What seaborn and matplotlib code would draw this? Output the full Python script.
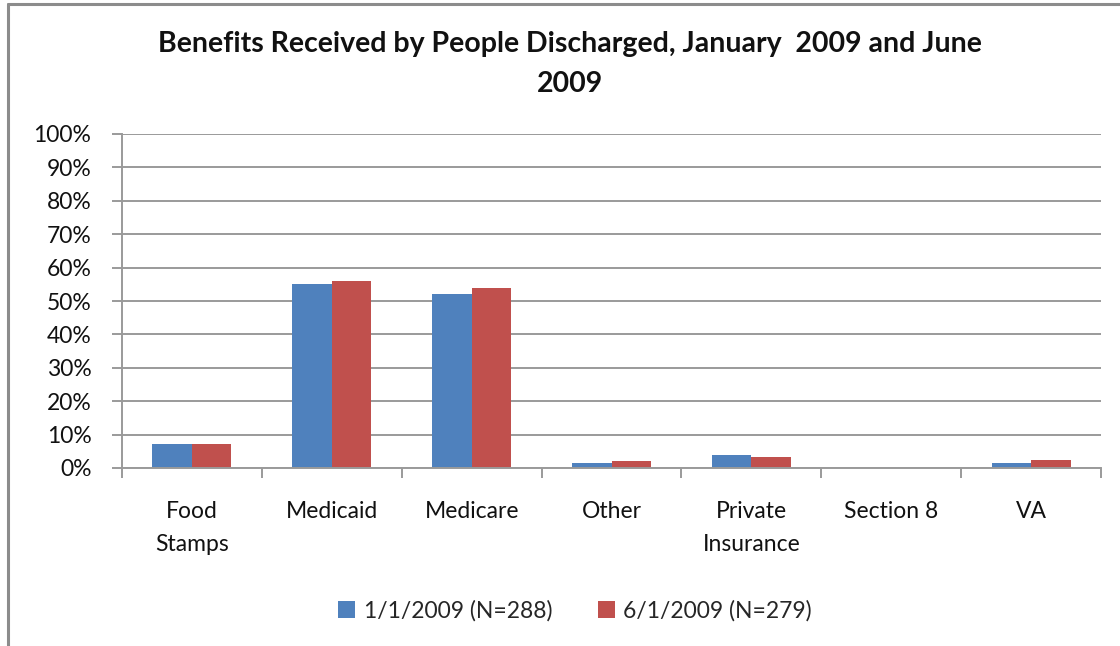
import matplotlib
matplotlib.use("Agg")
import matplotlib.pyplot as plt
from matplotlib.patches import Patch
from matplotlib.lines import Line2D
from matplotlib.ticker import FuncFormatter, MultipleLocator
import seaborn as sns
import pandas as pd

categories = ["Food\nStamps", "Medicaid", "Medicare", "Other",
              "Private\nInsurance", "Section 8", "VA"]
series_names = ["1/1/2009 (N=288)", "6/1/2009 (N=279)"]
jan_2009 = [7.1, 55.1, 52.1, 1.6, 4.0, 0.0, 1.6]
jun_2009 = [7.1, 55.9, 54.0, 2.1, 3.2, 0.0, 2.5]
colors = ["#4F81BD", "#C0504D"]
title = "Benefits Received by People Discharged, January  2009 and June\n2009"

df = pd.DataFrame({
    "category": categories * 2,
    "series": [series_names[0]] * len(categories) + [series_names[1]] * len(categories),
    "value": jan_2009 + jun_2009,
})

sns.set_theme(style="white")
plt.rcParams["font.family"] = ["Lato", "DejaVu Sans"]

W, H = 1120, 646
fig = plt.figure(figsize=(W / 100, H / 100), dpi=100)
ax = fig.add_axes([122 / W, 1 - 468 / H, (1101 - 122) / W, (468 - 134) / H])

sns.barplot(data=df, x="category", y="value", hue="series", order=categories,
            hue_order=series_names, palette=colors, width=0.565, gap=0,
            saturation=1, edgecolor="none", ax=ax, legend=False)

grid_col = "#9a9a9a"
ax.set_ylim(0, 100)
ax.set_xlim(-0.5, len(categories) - 0.5)
ax.yaxis.set_major_locator(MultipleLocator(10))
ax.yaxis.set_major_formatter(FuncFormatter(lambda v, p: f"{v:.0f}%"))
ax.grid(axis="y", color=grid_col, linewidth=1.4)
ax.set_axisbelow(True)
for s in ["top", "right"]:
    ax.spines[s].set_visible(False)
for s in ["left", "bottom"]:
    ax.spines[s].set_color(grid_col)
    ax.spines[s].set_linewidth(1.4)
ax.set_xlabel("")
ax.set_ylabel("")

# y ticks outward, x ticks at category boundaries
ax.tick_params(axis="y", which="major", direction="out", length=7, width=1.4,
               color=grid_col, left=True, labelsize=16.5, pad=15, labelcolor="#111111")
ax.tick_params(axis="x", which="major", length=0, labelsize=16.5, pad=24,
               labelcolor="#111111")
ax.set_xticks(range(len(categories)))
ax.set_xticklabels(categories, linespacing=1.7, va="top")
ax.set_xticks([i - 0.5 for i in range(len(categories) + 1)], minor=True)
ax.tick_params(axis="x", which="minor", direction="out", length=7, width=1.4,
               color=grid_col, bottom=True)

fig.text(570 / W, 1 - 64 / H, title, ha="center", va="center",
         fontsize=20.5, fontweight="bold", color="#111111", linespacing=1.7)

handles = [Patch(facecolor=c, edgecolor="none") for c in colors]
fig.legend(handles, series_names, loc="center", bbox_to_anchor=(575 / W, 1 - 611 / H),
           ncol=2, frameon=False, fontsize=16.5, handlelength=0.75, handleheight=0.75,
           handletextpad=0.35, columnspacing=2.0)

# outer chart frame: top and left edges
fig.add_artist(Line2D([8 / W, 1], [1 - 4 / H, 1 - 4 / H], transform=fig.transFigure,
                      color="#8c8c8c", linewidth=2.2))
fig.add_artist(Line2D([8 / W, 8 / W], [0, 1 - 4 / H], transform=fig.transFigure,
                      color="#8c8c8c", linewidth=2.2))

fig.savefig("out.png", dpi=100, facecolor="white")
